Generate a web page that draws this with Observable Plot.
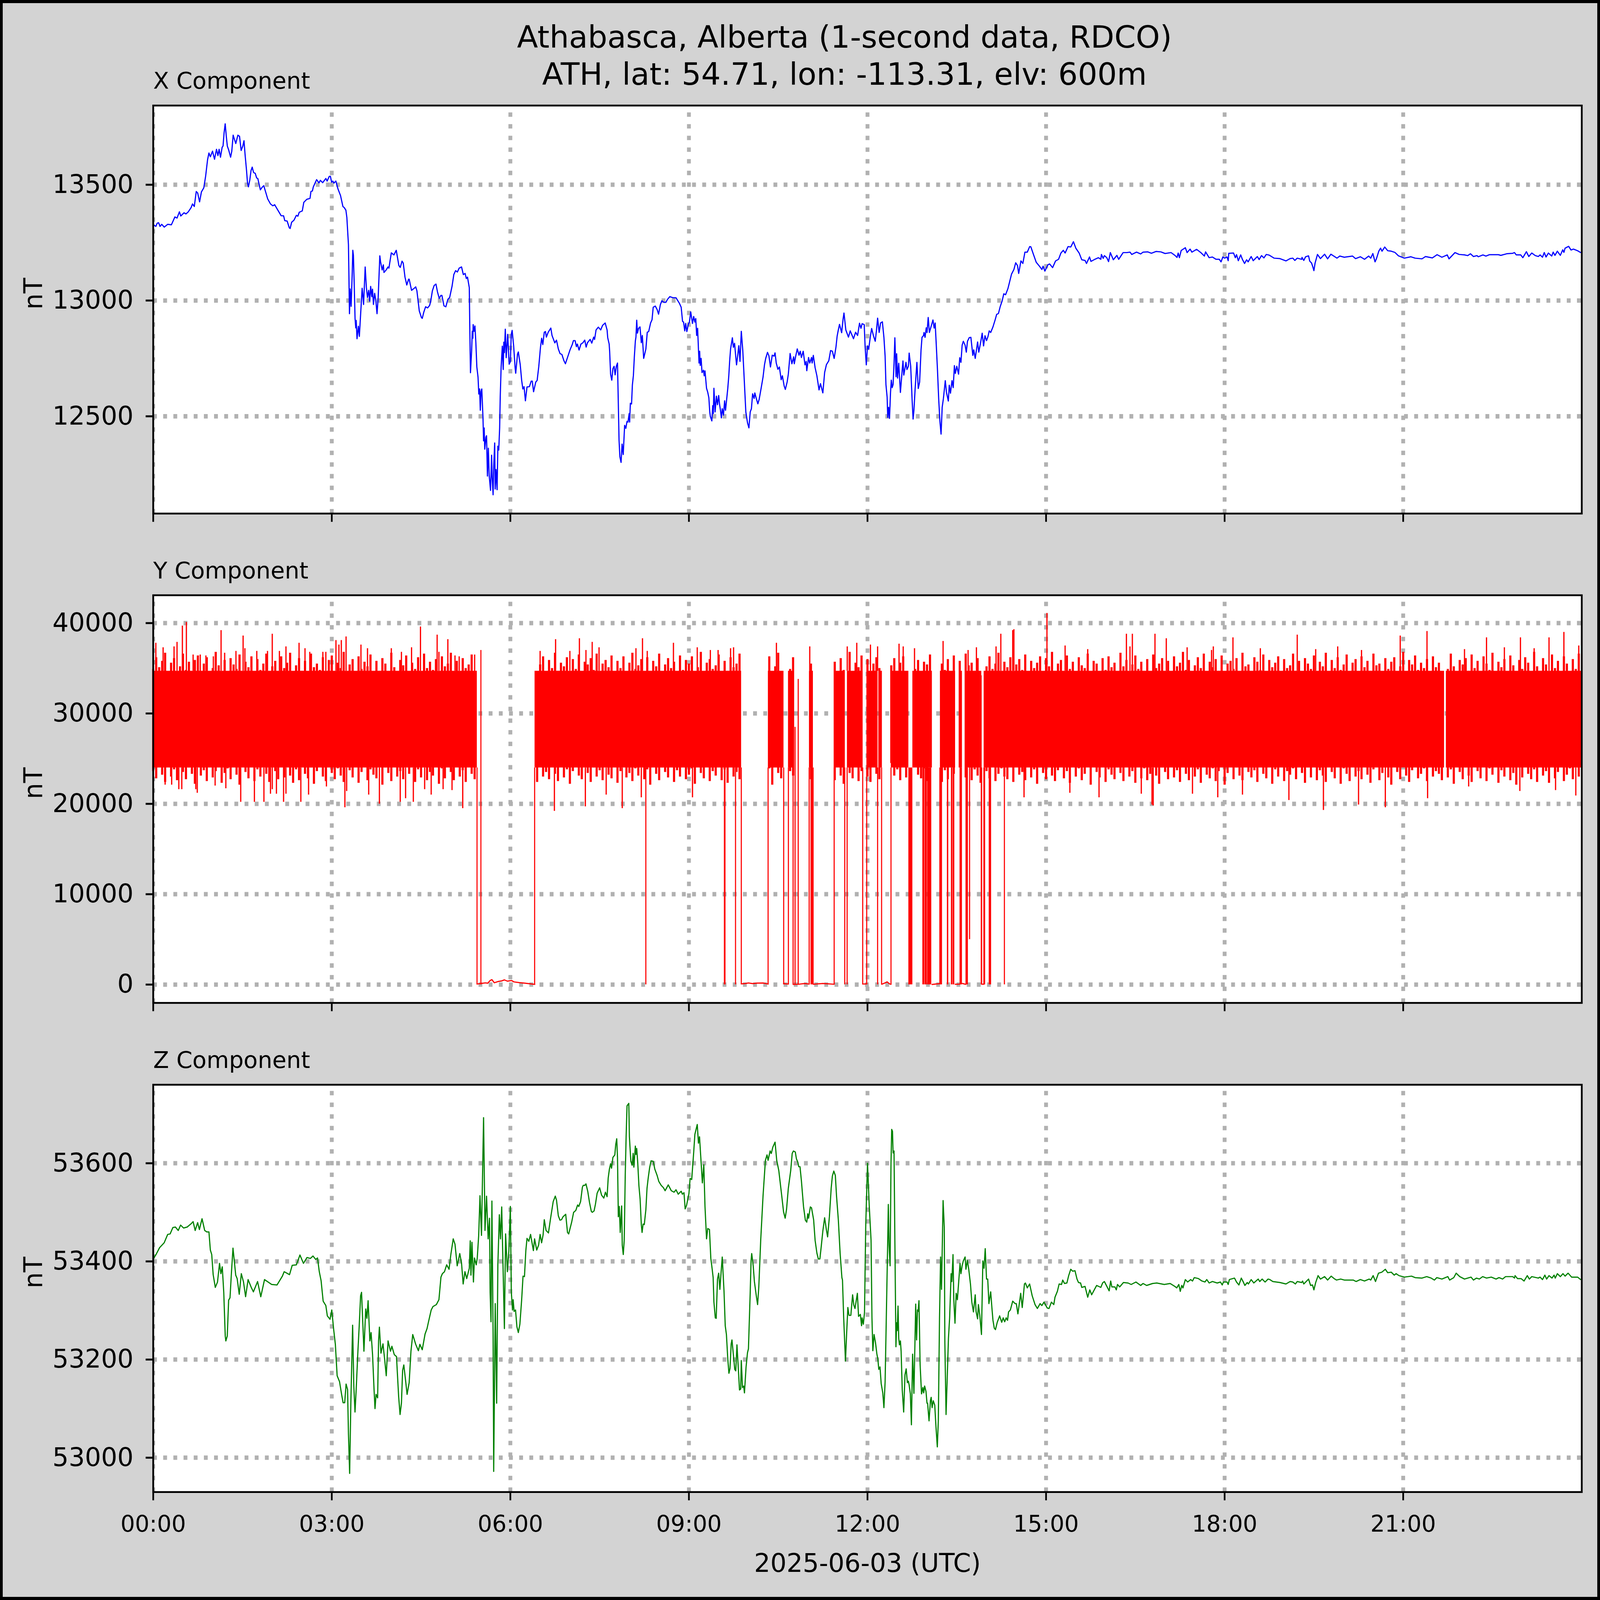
<!DOCTYPE html>
<html><head><meta charset="utf-8">
<script src="https://cdn.jsdelivr.net/npm/d3@7"></script>
<script src="https://cdn.jsdelivr.net/npm/@observablehq/plot@0.6"></script>
<style>
html,body{margin:0;padding:0;background:#d3d3d3;overflow:hidden}
#fig{position:relative;background:#d3d3d3;overflow:hidden}
#fig svg{display:block;max-width:none}
#edge{position:absolute;left:0;top:0;right:0;bottom:0;border-style:solid;border-color:#000;box-sizing:border-box;pointer-events:none}
</style></head><body><div id="fig"><div id="edge"></div></div>
<script>
const titleLines = ["Athabasca, Alberta (1-second data, RDCO)", "ATH, lat: 54.71, lon: -113.31, elv: 600m"];
const panelTitles = ["X Component", "Y Component", "Z Component"];
const xLabel = "2025-06-03 (UTC)";
const yLabel = "nT";
const hourTicks = [0,3,6,9,12,15,18,21];
const xTicksY = [12500,13000,13500];
const yTicksY = [0,10000,20000,30000,40000];
const zTicksY = [53000,53200,53400,53600];
const xDomainY = [12080,13842];
const yDomainY = [-2028,43081];
const zDomainY = [52930,53760];

// X component: [hour, nT]
const xSeries = [[0,13330],[.017,13325],[.044,13320],[.067,13334],[.09,13336],[.115,13320],[.143,13329],[.186,13317],[.242,13329],[.305,13327],[.34,13347],[.364,13361],[.4,13356],[.44,13383],[.463,13365],[.518,13379],[.55,13374],[.589,13383],[.636,13401],[.66,13417],[.69,13406],[.723,13471],[.747,13464],[.779,13426],[.81,13469],[.85,13487],[.881,13538],[.913,13608],[.936,13637],[.96,13621],[.996,13645],[1.03,13610],[1.063,13653],[1.087,13626],[1.107,13653],[1.13,13619],[1.158,13662],[1.173,13667],[1.19,13723],[1.209,13763],[1.229,13706],[1.245,13667],[1.268,13650],[1.3,13619],[1.32,13645],[1.343,13714],[1.363,13697],[1.387,13678],[1.422,13714],[1.45,13709],[1.477,13648],[1.505,13667],[1.525,13690],[1.544,13628],[1.568,13561],[1.584,13507],[1.6,13491],[1.623,13521],[1.643,13561],[1.663,13576],[1.686,13553],[1.714,13549],[1.738,13529],[1.757,13527],[1.8,13478],[1.83,13489],[1.857,13496],[1.892,13466],[1.923,13439],[1.97,13417],[2.01,13409],[2.04,13414],[2.09,13392],[2.15,13366],[2.19,13366],[2.21,13345],[2.25,13343],[2.286,13314],[2.3,13311],[2.326,13338],[2.365,13347],[2.405,13368],[2.43,13364],[2.453,13381],[2.504,13387],[2.53,13424],[2.58,13437],[2.634,13441],[2.65,13471],[2.674,13473],[2.69,13491],[2.713,13504],[2.745,13522],[2.784,13508],[2.808,13519],[2.847,13509],[2.9,13527],[2.922,13516],[2.957,13536],[2.977,13536],[2.997,13511],[3.017,13516],[3.036,13507],[3.068,13516],[3.104,13482],[3.147,13453],[3.187,13406],[3.21,13401],[3.237,13390],[3.253,13359],[3.28,13241],[3.297,12943],[3.309,13050],[3.325,12975],[3.344,13123],[3.353,13217],[3.363,13196],[3.376,13078],[3.391,12921],[3.403,12882],[3.41,12914],[3.424,12835],[3.447,12889],[3.463,12845],[3.48,12921],[3.51,13053],[3.534,12983],[3.561,13145],[3.581,13056],[3.6,13013],[3.62,13044],[3.637,12997],[3.653,13061],[3.672,13017],[3.684,13049],[3.7,12983],[3.72,13031],[3.74,13000],[3.76,12943],[3.779,13011],[3.807,13193],[3.819,13168],[3.846,13132],[3.866,13154],[3.877,13121],[3.913,13132],[3.945,13145],[3.96,13140],[4,13206],[4.044,13197],[4.083,13217],[4.127,13151],[4.15,13143],[4.18,13170],[4.2,13162],[4.23,13101],[4.26,13067],[4.29,13092],[4.3,13092],[4.34,13044],[4.386,13053],[4.41,13059],[4.43,13042],[4.47,12955],[4.505,12927],[4.52,12923],[4.545,12949],[4.576,12973],[4.61,12968],[4.644,12979],[4.664,13000],[4.69,13042],[4.72,13065],[4.75,13071],[4.775,13038],[4.805,13009],[4.833,13022],[4.85,13022],[4.885,12977],[4.916,12973],[4.95,13005],[4.98,13013],[5.02,13061],[5.05,13112],[5.08,13129],[5.11,13123],[5.14,13140],[5.18,13145],[5.21,13112],[5.24,13117],[5.26,13095],[5.28,13101],[5.31,13056],[5.32,12854],[5.33,12688],[5.35,12786],[5.36,12867],[5.37,12837],[5.375,12896],[5.39,12867],[5.405,12890],[5.42,12820],[5.437,12713],[5.457,12669],[5.47,12596],[5.484,12618],[5.495,12526],[5.507,12607],[5.52,12618],[5.54,12495],[5.55,12394],[5.56,12450],[5.57,12358],[5.59,12410],[5.6,12416],[5.615,12242],[5.63,12362],[5.645,12242],[5.667,12180],[5.685,12332],[5.695,12236],[5.71,12161],[5.72,12281],[5.737,12385],[5.745,12186],[5.76,12270],[5.777,12183],[5.79,12371],[5.805,12354],[5.82,12450],[5.83,12584],[5.845,12713],[5.865,12803],[5.88,12702],[5.89,12820],[5.9,12775],[5.915,12876],[5.93,12753],[5.955,12854],[5.98,12725],[6,12736],[6.015,12854],[6.03,12871],[6.055,12805],[6.08,12710],[6.09,12686],[6.12,12768],[6.134,12778],[6.166,12723],[6.19,12655],[6.21,12618],[6.23,12628],[6.253,12567],[6.28,12627],[6.32,12628],[6.35,12652],[6.368,12652],[6.39,12606],[6.427,12648],[6.45,12655],[6.478,12716],[6.506,12798],[6.526,12837],[6.545,12810],[6.57,12863],[6.59,12866],[6.605,12842],[6.636,12863],[6.68,12881],[6.7,12849],[6.747,12817],[6.775,12829],[6.806,12791],[6.834,12771],[6.866,12767],[6.9,12740],[6.925,12727],[6.964,12757],[7.004,12788],[7.04,12810],[7.06,12827],[7.087,12827],[7.11,12801],[7.126,12812],[7.154,12786],[7.186,12812],[7.217,12817],[7.25,12829],[7.273,12799],[7.296,12818],[7.34,12832],[7.368,12816],[7.4,12842],[7.415,12832],[7.44,12873],[7.478,12885],[7.518,12873],[7.55,12893],[7.593,12903],[7.625,12873],[7.636,12839],[7.66,12812],[7.668,12781],[7.684,12682],[7.704,12656],[7.723,12706],[7.743,12716],[7.76,12679],[7.78,12716],[7.8,12730],[7.814,12553],[7.826,12397],[7.84,12325],[7.86,12301],[7.877,12380],[7.896,12335],[7.92,12461],[7.94,12448],[7.96,12478],[7.976,12475],[7.996,12512],[8.004,12475],[8.016,12556],[8.036,12553],[8.05,12635],[8.067,12676],[8.083,12757],[8.1,12825],[8.11,12842],[8.123,12915],[8.135,12859],[8.154,12880],[8.178,12886],[8.2,12818],[8.217,12849],[8.24,12750],[8.277,12791],[8.3,12863],[8.324,12866],[8.356,12903],[8.38,12917],[8.4,12971],[8.435,12976],[8.466,12961],[8.49,12941],[8.52,12982],[8.545,12999],[8.58,12992],[8.613,12992],[8.64,13005],[8.68,13017],[8.73,13012],[8.783,13012],[8.84,12988],[8.87,12971],[8.893,12910],[8.91,12907],[8.93,12869],[8.945,12901],[8.965,12866],[8.99,12897],[9.008,12907],[9.03,12951],[9.06,12901],[9.08,12931],[9.1,12907],[9.115,12922],[9.13,12849],[9.146,12880],[9.16,12791],[9.17,12730],[9.18,12781],[9.19,12720],[9.205,12750],[9.22,12689],[9.245,12699],[9.257,12675],[9.27,12696],[9.296,12621],[9.316,12604],[9.335,12580],[9.35,12519],[9.36,12499],[9.385,12480],[9.4,12546],[9.41,12512],[9.42,12621],[9.44,12519],[9.462,12587],[9.48,12550],[9.5,12590],[9.514,12553],[9.53,12526],[9.545,12493],[9.56,12533],[9.58,12505],[9.6,12567],[9.615,12526],[9.63,12563],[9.653,12621],[9.67,12675],[9.684,12737],[9.7,12791],[9.73,12839],[9.747,12798],[9.767,12815],[9.787,12757],[9.8,12722],[9.82,12764],[9.838,12805],[9.858,12737],[9.88,12867],[9.905,12784],[9.93,12655],[9.956,12519],[9.985,12471],[10.008,12450],[10.03,12519],[10.05,12533],[10.07,12597],[10.095,12577],[10.107,12601],[10.134,12575],[10.158,12554],[10.18,12573],[10.213,12621],[10.245,12669],[10.27,12723],[10.29,12750],[10.32,12776],[10.344,12761],[10.37,12713],[10.4,12764],[10.43,12760],[10.447,12774],[10.467,12730],[10.495,12703],[10.52,12713],[10.55,12658],[10.57,12675],[10.6,12631],[10.62,12616],[10.65,12648],[10.67,12682],[10.7,12771],[10.73,12727],[10.76,12757],[10.77,12727],[10.795,12761],[10.82,12791],[10.85,12764],[10.87,12781],[10.89,12754],[10.92,12781],[10.95,12722],[10.97,12737],[10.98,12697],[11.01,12754],[11.03,12730],[11.06,12754],[11.07,12730],[11.09,12763],[11.12,12710],[11.15,12675],[11.186,12614],[11.21,12641],[11.25,12601],[11.28,12689],[11.31,12723],[11.35,12740],[11.38,12784],[11.41,12781],[11.44,12750],[11.47,12798],[11.49,12846],[11.51,12873],[11.53,12897],[11.566,12861],[11.59,12920],[11.605,12946],[11.636,12873],[11.68,12842],[11.71,12869],[11.765,12835],[11.8,12863],[11.834,12849],[11.866,12902],[11.89,12880],[11.91,12900],[11.945,12896],[11.96,12801],[11.98,12722],[12,12804],[12.02,12790],[12.05,12848],[12.07,12879],[12.1,12848],[12.13,12824],[12.15,12869],[12.17,12924],[12.196,12862],[12.22,12903],[12.25,12908],[12.276,12841],[12.296,12760],[12.31,12637],[12.33,12583],[12.34,12495],[12.355,12539],[12.37,12491],[12.387,12603],[12.4,12656],[12.415,12624],[12.43,12637],[12.446,12729],[12.46,12839],[12.48,12671],[12.49,12770],[12.505,12665],[12.525,12729],[12.553,12603],[12.584,12702],[12.596,12739],[12.61,12678],[12.647,12733],[12.663,12702],[12.687,12716],[12.7,12773],[12.726,12716],[12.75,12569],[12.766,12488],[12.78,12525],[12.8,12617],[12.83,12733],[12.853,12620],[12.876,12648],[12.9,12788],[12.916,12841],[12.94,12848],[12.95,12862],[12.967,12841],[12.987,12882],[13,12862],[13.02,12927],[13.04,12862],[13.07,12889],[13.1,12916],[13.12,12881],[13.137,12903],[13.157,12801],[13.176,12699],[13.196,12576],[13.216,12481],[13.236,12423],[13.255,12539],[13.275,12576],[13.307,12654],[13.327,12603],[13.358,12566],[13.374,12634],[13.394,12600],[13.42,12654],[13.44,12624],[13.46,12719],[13.476,12685],[13.5,12716],[13.53,12682],[13.55,12753],[13.57,12733],[13.59,12807],[13.61,12824],[13.64,12807],[13.66,12777],[13.68,12824],[13.71,12840],[13.737,12841],[13.77,12763],[13.785,12787],[13.81,12750],[13.85,12821],[13.87,12777],[13.9,12818],[13.927,12859],[13.95,12804],[13.974,12848],[14,12827],[14.025,12845],[14.045,12869],[14.07,12862],[14.108,12886],[14.144,12916],[14.17,12940],[14.2,12944],[14.23,12974],[14.262,12998],[14.29,13029],[14.32,13025],[14.36,13052],[14.39,13083],[14.42,13114],[14.46,13134],[14.49,13163],[14.52,13151],[14.54,13117],[14.578,13171],[14.61,13160],[14.645,13209],[14.685,13209],[14.725,13233],[14.744,13232],[14.784,13202],[14.835,13165],[14.89,13148],[14.93,13134],[14.95,13148],[14.98,13127],[15.03,13154],[15.06,13158],[15.11,13142],[15.16,13171],[15.21,13178],[15.25,13205],[15.29,13217],[15.32,13205],[15.37,13233],[15.415,13231],[15.46,13254],[15.5,13226],[15.556,13205],[15.6,13176],[15.655,13173],[15.68,13160],[15.73,13188],[15.755,13169],[15.82,13178],[15.88,13185],[15.92,13178],[15.93,13199],[15.96,13182],[15.98,13194],[16.02,13185],[16.05,13168],[16.08,13207],[16.13,13176],[16.19,13195],[16.22,13178],[16.295,13207],[16.355,13207],[16.41,13209],[16.44,13199],[16.52,13209],[16.59,13201],[16.63,13209],[16.71,13210],[16.77,13204],[16.85,13212],[16.93,13210],[17,13203],[17.1,13207],[17.165,13195],[17.2,13186],[17.22,13205],[17.24,13185],[17.27,13216],[17.34,13228],[17.37,13207],[17.42,13222],[17.45,13209],[17.53,13221],[17.6,13207],[17.66,13192],[17.68,13210],[17.74,13185],[17.795,13188],[17.855,13178],[17.91,13178],[17.94,13167],[17.97,13188],[18,13183],[18.04,13188],[18.06,13172],[18.07,13204],[18.15,13205],[18.18,13185],[18.2,13198],[18.23,13172],[18.27,13197],[18.3,13177],[18.335,13160],[18.37,13176],[18.395,13167],[18.446,13190],[18.48,13172],[18.55,13190],[18.58,13177],[18.62,13194],[18.66,13184],[18.7,13199],[18.75,13196],[18.83,13183],[18.93,13181],[19.03,13171],[19.1,13181],[19.145,13183],[19.18,13173],[19.22,13183],[19.295,13178],[19.3,13186],[19.33,13173],[19.36,13189],[19.41,13193],[19.43,13170],[19.46,13162],[19.48,13147],[19.5,13129],[19.52,13162],[19.56,13199],[19.61,13181],[19.68,13200],[19.73,13180],[19.785,13200],[19.887,13183],[19.935,13192],[20.01,13187],[20.15,13192],[20.2,13181],[20.28,13189],[20.35,13178],[20.42,13192],[20.455,13183],[20.49,13203],[20.527,13167],[20.55,13180],[20.59,13213],[20.62,13226],[20.645,13213],[20.69,13231],[20.74,13215],[20.8,13213],[20.86,13208],[20.92,13193],[21.02,13183],[21.13,13189],[21.2,13183],[21.316,13180],[21.375,13190],[21.49,13184],[21.57,13198],[21.65,13187],[21.74,13197],[21.77,13180],[21.87,13207],[21.94,13199],[22.03,13197],[22.085,13194],[22.13,13202],[22.18,13190],[22.24,13194],[22.26,13189],[22.34,13197],[22.39,13192],[22.45,13198],[22.6,13198],[22.64,13195],[22.74,13202],[22.84,13204],[22.87,13207],[22.9,13197],[22.975,13197],[23.01,13185],[23.07,13211],[23.11,13190],[23.16,13205],[23.22,13194],[23.27,13190],[23.3,13197],[23.34,13187],[23.37,13207],[23.4,13188],[23.44,13205],[23.495,13192],[23.52,13209],[23.55,13195],[23.59,13213],[23.64,13195],[23.68,13219],[23.7,13208],[23.72,13226],[23.78,13234],[23.82,13218],[23.86,13222],[23.93,13215],[23.97,13209],[24,13205]];

// Z component: [hour, nT]
const zSeries = [[0,53405],[.01,53407],[.047,53414],[.107,53428],[.184,53438],[.243,53455],[.284,53456],[.33,53469],[.373,53470],[.42,53463],[.46,53474],[.51,53468],[.57,53470],[.63,53476],[.67,53481],[.705,53463],[.746,53479],[.776,53465],[.82,53487],[.865,53463],[.9,53460],[.936,53460],[.96,53423],[.983,53414],[1.007,53373],[1.043,53347],[1.08,53358],[1.114,53396],[1.137,53375],[1.16,53389],[1.185,53337],[1.21,53248],[1.22,53238],[1.244,53248],[1.267,53321],[1.29,53326],[1.315,53379],[1.34,53427],[1.363,53400],[1.386,53372],[1.41,53365],[1.445,53333],[1.48,53375],[1.517,53358],[1.552,53328],[1.594,53363],[1.647,53347],[1.683,53338],[1.753,53359],[1.807,53328],[1.87,53363],[1.93,53358],[1.99,53353],[2.08,53352],[2.17,53370],[2.2,53379],[2.29,53373],[2.335,53392],[2.405,53393],[2.465,53413],[2.524,53396],[2.583,53408],[2.64,53406],[2.684,53411],[2.73,53404],[2.76,53407],[2.79,53379],[2.82,53361],[2.855,53319],[2.9,53310],[2.925,53289],[2.97,53282],[3,53301],[3.03,53263],[3.06,53231],[3.09,53167],[3.13,53155],[3.165,53129],[3.19,53112],[3.217,53112],[3.24,53150],[3.265,53139],[3.28,53048],[3.3,52968],[3.32,53111],[3.35,53270],[3.37,53146],[3.39,53093],[3.41,53139],[3.436,53210],[3.46,53267],[3.484,53330],[3.5,53337],[3.54,53217],[3.57,53303],[3.59,53284],[3.61,53320],[3.64,53238],[3.66,53255],[3.685,53210],[3.71,53139],[3.726,53100],[3.744,53129],[3.77,53122],[3.786,53238],[3.8,53266],[3.826,53213],[3.86,53232],[3.886,53203],[3.915,53167],[3.945,53238],[3.986,53217],[4.01,53227],[4.05,53210],[4.087,53206],[4.123,53125],[4.147,53088],[4.17,53111],[4.19,53178],[4.21,53189],[4.24,53157],[4.265,53129],[4.3,53153],[4.33,53217],[4.36,53251],[4.41,53231],[4.455,53218],[4.48,53231],[4.52,53220],[4.567,53252],[4.6,53263],[4.625,53277],[4.67,53301],[4.7,53308],[4.757,53312],[4.8,53322],[4.834,53368],[4.858,53375],[4.893,53379],[4.93,53393],[4.97,53384],[5,53414],[5.04,53446],[5.07,53435],[5.107,53391],[5.15,53416],[5.18,53396],[5.207,53354],[5.237,53379],[5.267,53365],[5.31,53386],[5.326,53442],[5.338,53372],[5.355,53439],[5.38,53358],[5.397,53407],[5.427,53393],[5.444,53407],[5.468,53453],[5.49,53534],[5.515,53453],[5.55,53693],[5.574,53463],[5.6,53533],[5.627,53446],[5.65,53488],[5.66,53337],[5.675,53277],[5.69,53523],[5.71,53252],[5.72,52972],[5.746,53314],[5.77,53111],[5.79,53393],[5.815,53495],[5.834,53446],[5.855,53511],[5.9,53263],[5.92,53456],[5.95,53379],[5.975,53421],[6,53512],[6.016,53338],[6.036,53301],[6.047,53322],[6.063,53298],[6.087,53301],[6.11,53267],[6.134,53255],[6.16,53272],[6.19,53322],[6.213,53370],[6.237,53369],[6.26,53422],[6.28,53447],[6.31,53441],[6.34,53455],[6.364,53438],[6.387,53422],[6.407,53446],[6.443,53423],[6.474,53433],[6.5,53455],[6.525,53438],[6.55,53454],[6.57,53485],[6.6,53463],[6.64,53458],[6.676,53488],[6.72,53522],[6.755,53533],[6.775,53525],[6.806,53493],[6.834,53484],[6.86,53485],[6.885,53491],[6.93,53496],[6.96,53459],[6.98,53456],[7.03,53480],[7.063,53500],[7.1,53504],[7.13,53515],[7.15,53512],[7.18,53522],[7.21,53551],[7.225,53555],[7.25,53555],[7.27,53558],[7.3,53543],[7.33,53520],[7.36,53502],[7.376,53500],[7.407,53503],[7.43,53517],[7.458,53539],[7.5,53550],[7.533,53535],[7.57,53529],[7.597,53541],[7.625,53532],[7.644,53570],[7.664,53588],[7.684,53599],[7.7,53590],[7.723,53612],[7.755,53617],[7.77,53638],[7.787,53650],[7.8,53612],[7.814,53491],[7.83,53512],[7.846,53459],[7.87,53513],[7.88,53433],[7.897,53414],[7.913,53443],[7.93,53575],[7.945,53654],[7.96,53717],[7.99,53722],[8,53654],[8.024,53604],[8.047,53596],[8.063,53620],[8.075,53592],[8.1,53635],[8.11,53618],[8.123,53630],[8.14,53601],[8.16,53554],[8.18,53527],[8.2,53475],[8.213,53459],[8.23,53476],[8.25,53475],[8.277,53506],[8.296,53549],[8.316,53570],[8.34,53591],[8.364,53605],[8.4,53604],[8.427,53588],[8.466,53575],[8.494,53563],[8.534,53555],[8.573,53550],[8.6,53544],[8.653,53556],[8.704,53544],[8.75,53541],[8.783,53546],[8.82,53537],[8.87,53543],[8.89,53537],[8.917,53540],[8.937,53507],[8.96,53514],[9,53538],[9.02,53569],[9.047,53567],[9.08,53622],[9.1,53659],[9.14,53679],[9.16,53641],[9.178,53654],[9.205,53601],[9.226,53560],[9.25,53597],[9.27,53512],[9.296,53446],[9.316,53467],[9.345,53465],[9.368,53406],[9.39,53385],[9.407,53367],[9.42,53317],[9.443,53285],[9.458,53284],[9.48,53364],[9.5,53376],[9.52,53343],[9.54,53377],[9.56,53409],[9.59,53338],[9.61,53269],[9.63,53251],[9.653,53201],[9.672,53172],[9.69,53182],[9.71,53232],[9.723,53240],[9.75,53206],[9.77,53180],[9.787,53177],[9.807,53230],[9.826,53190],[9.85,53138],[9.87,53140],[9.88,53198],[9.9,53143],[9.92,53146],[9.933,53132],[9.96,53185],[9.984,53214],[10,53222],[10.03,53338],[10.044,53401],[10.055,53416],[10.08,53391],[10.1,53359],[10.123,53338],[10.135,53327],[10.154,53312],[10.174,53348],[10.206,53443],[10.245,53533],[10.285,53606],[10.312,53617],[10.33,53606],[10.364,53625],[10.384,53620],[10.41,53633],[10.447,53643],[10.475,53606],[10.51,53585],[10.56,53533],[10.59,53501],[10.617,53488],[10.64,53506],[10.67,53549],[10.71,53585],[10.735,53620],[10.755,53625],[10.787,53623],[10.806,53609],[10.83,53602],[10.845,53593],[10.866,53593],[10.89,53564],[10.925,53512],[10.956,53484],[10.98,53480],[10.996,53497],[11.01,53488],[11.04,53511],[11.06,53509],[11.095,53485],[11.12,53443],[11.15,53417],[11.174,53405],[11.2,53405],[11.22,53427],[11.25,53462],[11.28,53489],[11.31,53464],[11.33,53450],[11.36,53491],[11.39,53549],[11.41,53574],[11.434,53584],[11.46,53575],[11.48,53533],[11.51,53485],[11.54,53417],[11.57,53367],[11.58,53362],[11.6,53285],[11.63,53197],[11.65,53254],[11.67,53306],[11.69,53290],[11.72,53290],[11.75,53332],[11.77,53311],[11.79,53304],[11.83,53335],[11.85,53288],[11.88,53292],[11.9,53269],[11.91,53285],[11.93,53272],[11.95,53296],[11.97,53470],[12,53600],[12.01,53572],[12.03,53512],[12.06,53443],[12.075,53285],[12.09,53218],[12.11,53251],[12.134,53235],[12.158,53211],[12.174,53201],[12.19,53180],[12.21,53185],[12.23,53151],[12.257,53132],[12.276,53102],[12.296,53154],[12.316,53285],[12.34,53443],[12.35,53516],[12.363,53433],[12.38,53391],[12.395,53601],[12.407,53669],[12.42,53665],[12.43,53621],[12.446,53625],[12.46,53443],[12.478,53226],[12.49,53275],[12.5,53259],[12.513,53309],[12.525,53243],[12.537,53230],[12.553,53238],[12.565,53217],[12.584,53138],[12.608,53093],[12.63,53169],[12.65,53181],[12.67,53153],[12.687,53156],[12.7,53148],[12.72,53130],[12.738,53067],[12.758,53211],[12.78,53131],[12.797,53233],[12.81,53313],[12.825,53240],[12.84,53301],[12.85,53298],[12.865,53320],[12.884,53190],[12.908,53130],[12.93,53143],[12.944,53132],[12.96,53146],[12.983,53135],[13,53111],[13.01,53111],[13.034,53075],[13.058,53117],[13.07,53123],[13.086,53102],[13.105,53116],[13.13,53107],[13.15,53064],[13.173,53022],[13.19,53075],[13.21,53285],[13.228,53409],[13.244,53343],[13.27,53524],[13.29,53470],[13.3,53233],[13.32,53088],[13.34,53164],[13.36,53243],[13.38,53285],[13.405,53375],[13.417,53359],[13.437,53414],[13.45,53322],[13.47,53274],[13.49,53335],[13.51,53322],[13.52,53338],[13.555,53396],[13.57,53375],[13.59,53391],[13.61,53401],[13.64,53409],[13.654,53384],[13.678,53402],[13.7,53385],[13.73,53354],[13.753,53317],[13.78,53297],[13.81,53332],[13.824,53298],[13.85,53283],[13.863,53312],[13.887,53290],[13.915,53251],[13.938,53401],[13.958,53386],[13.978,53426],[14,53364],[14.02,53364],[14.04,53314],[14.07,53338],[14.09,53306],[14.108,53280],[14.13,53264],[14.15,53261],[14.18,53276],[14.22,53289],[14.255,53276],[14.28,53285],[14.305,53277],[14.33,53285],[14.353,53280],[14.37,53297],[14.4,53301],[14.44,53319],[14.48,53314],[14.5,53314],[14.527,53293],[14.574,53335],[14.6,53306],[14.637,53354],[14.653,53356],[14.685,53346],[14.724,53354],[14.767,53330],[14.815,53312],[14.854,53304],[14.9,53314],[14.93,53310],[14.965,53317],[15.02,53305],[15.05,53304],[15.09,53317],[15.13,53312],[15.15,53327],[15.19,53339],[15.22,53354],[15.26,53353],[15.28,53362],[15.31,53355],[15.35,53356],[15.38,53371],[15.415,53384],[15.447,53380],[15.486,53381],[15.52,53364],[15.545,53357],[15.58,53356],[15.6,53347],[15.655,53349],[15.7,53327],[15.735,53342],[15.766,53332],[15.81,53342],[15.85,53351],[15.92,53347],[15.95,53356],[15.98,53359],[16.06,53340],[16.086,53360],[16.106,53348],[16.157,53348],[16.18,53342],[16.2,53353],[16.237,53348],[16.3,53357],[16.377,53356],[16.43,53353],[16.51,53358],[16.59,53351],[16.63,53355],[16.69,53351],[16.79,53355],[16.86,53356],[16.986,53353],[17.085,53355],[17.164,53349],[17.196,53346],[17.23,53353],[17.255,53339],[17.28,53351],[17.3,53346],[17.34,53363],[17.38,53358],[17.43,53363],[17.46,53360],[17.49,53367],[17.56,53365],[17.62,53360],[17.67,53358],[17.7,53363],[17.74,53356],[17.795,53359],[17.875,53356],[17.93,53358],[17.96,53352],[17.98,53358],[18.04,53358],[18.06,53353],[18.08,53363],[18.166,53366],[18.2,53358],[18.24,53352],[18.28,53366],[18.31,53359],[18.34,53351],[18.38,53357],[18.4,53354],[18.446,53363],[18.49,53356],[18.565,53364],[18.59,53359],[18.63,53364],[18.68,53358],[18.73,53364],[18.76,53363],[18.81,53359],[18.93,53357],[19.03,53354],[19.1,53359],[19.145,53358],[19.19,53354],[19.22,53359],[19.295,53357],[19.31,53360],[19.33,53354],[19.41,53364],[19.445,53351],[19.476,53352],[19.5,53342],[19.53,53357],[19.57,53371],[19.61,53364],[19.68,53369],[19.73,53362],[19.79,53370],[19.84,53365],[19.88,53362],[19.95,53364],[20.01,53362],[20.16,53362],[20.21,53359],[20.28,53363],[20.35,53360],[20.43,53364],[20.455,53362],[20.495,53371],[20.535,53359],[20.585,53376],[20.64,53378],[20.7,53384],[20.74,53377],[20.8,53378],[20.85,53372],[20.88,53375],[20.93,53371],[21.02,53368],[21.14,53370],[21.2,53367],[21.316,53366],[21.395,53369],[21.47,53366],[21.525,53362],[21.565,53367],[21.65,53364],[21.75,53369],[21.78,53362],[21.85,53367],[21.89,53376],[21.95,53369],[22.03,53364],[22.14,53368],[22.18,53362],[22.23,53366],[22.28,53364],[22.335,53369],[22.4,53366],[22.48,53368],[22.56,53364],[22.61,53367],[22.67,53364],[22.72,53369],[22.84,53369],[22.87,53366],[22.88,53371],[22.92,53365],[22.98,53365],[23.03,53360],[23.085,53371],[23.12,53364],[23.16,53369],[23.27,53366],[23.3,53368],[23.34,53363],[23.38,53372],[23.41,53364],[23.45,53371],[23.5,53366],[23.535,53372],[23.555,53366],[23.59,53375],[23.64,53369],[23.685,53375],[23.72,53370],[23.77,53376],[23.8,53372],[23.83,53368],[23.93,53368],[23.97,53364],[24,53362]];

// Y component. Noise band hours, and its solid core in nT.
const yBands = [[0,5.44],[6.41,9.88],[10.33,10.592],[10.668,10.755],[11.02,11.086],[11.44,11.62],[11.658,11.92],[11.995,12.17],[12.2,12.245],[12.395,12.69],[12.757,13.085],[13.22,13.475],[13.55,13.59],[13.65,13.915],[13.955,21.69],[21.72,24]];
const yCore = [24000,34700];
// Band envelope read every 0.05 h, in hundreds of nT
const yHigh = [349,362,351,358,367,345,356,361,343,352,366,348,357,340,359,364,347,355,362,344,350,368,353,346,359,342,361,354,349,365,343,357,351,363,346,360,348,355,366,341,352,358,345,363,350,356,367,344,
353,361,347,358,342,366,351,355,348,362,345,359,364,343,356,350,368,346,354,360,341,363,349,357,352,365,344,358,347,361,355,342,367,351,346,359,353,364,345,356,349,362,343,366,350,357,348,360,
344,363,352,355,367,346,358,341,361,350,354,365,347,359,343,356,362,349,351,368,345,357,353,360,342,364,348,355,366,344,358,351,361,346,354,363,340,359,350,367,347,356,352,362,345,360,349,365,
343,357,354,361,348,366,342,355,359,351,364,346,358,350,363,344,356,367,349,353,360,341,362,347,358,352,366,345,354,361,350,357,343,364,348,359,355,363,346,351,368,344,356,360,349,353,365,342,
358,347,362,351,355,366,345,359,350,361,343,357,364,348,354,363,346,352,367,341,358,356,349,362,344,360,353,365,347,355,350,363,342,359,346,366,352,357,345,361,348,354,368,343,356,351,364,347,
360,345,355,362,350,358,366,342,353,361,347,356,363,344,352,367,349,359,341,357,354,365,346,362,351,355,348,360,343,364,350,358,345,366,353,356,347,361,342,359,352,363,349,355,367,344,357,351,
362,346,354,360,348,365,343,358,350,356,363,345,361,352,368,347,355,359,341,364,349,357,344,362,353,350,366,346,358,355,342,361,348,363,351,356,345,367,352,359,343,354,364,349,357,347,360,344,
365,350,355,361,346,358,342,363,352,356,368,348,359,345,353,362,350,366,344,357,351,360,347,364,341,355,358,349,361,346,367,352,354,343,362,357,348,365,345,359,351,356,363,344,360,350,353,366,
347,358,342,361,355,349,364,346,357,352,367,343,359,350,362,348,354,365,345,356,360,341,363,351,358,347,366,353,355,344,361,349,357,362,346,352,368,342,359,354,364,348,356,350,360,345,363,351,
356,343,362,349,366,352,345,359,354,361,347,365,350,358,342,363,355,348,367,344,357,351,360,346,364,353,341,359,349,362,356,345,368,352,347,361,354,343,365,350,358,346,363,355,344,360,349,366];
const yLow = [236,228,241,232,224,245,230,238,226,243,235,227,240,233,222,246,231,237,225,242,229,236,244,223,234,239,227,247,232,221,241,235,228,243,225,238,230,245,233,224,240,236,227,242,229,246,231,223,
238,226,244,233,228,240,222,236,247,230,225,242,234,227,239,231,224,245,237,229,241,223,235,243,226,238,232,228,246,221,240,234,225,243,230,236,227,242,233,245,224,238,229,241,226,235,231,244,
222,239,228,243,235,226,241,230,237,224,246,233,227,240,232,223,244,236,229,242,225,238,231,245,234,221,240,228,236,243,226,232,239,224,247,230,235,227,241,233,225,244,229,238,222,236,242,231,
227,245,234,224,240,230,237,226,243,232,228,241,223,236,246,229,234,225,239,231,244,227,238,221,242,233,226,240,235,229,245,224,237,230,243,227,232,239,222,246,234,228,241,225,236,231,244,226,
238,223,242,230,235,227,240,233,245,224,237,229,243,226,232,239,221,244,234,228,241,225,236,231,247,223,238,230,242,227,235,240,224,245,233,229,237,226,243,231,222,239,234,228,246,225,236,241,
230,224,243,233,227,240,235,222,245,231,238,226,242,229,236,223,244,232,228,239,225,246,234,230,241,224,237,227,243,233,221,240,235,229,245,226,238,231,223,242,236,228,244,225,233,239,230,227,
241,224,246,232,235,226,243,229,238,222,240,234,227,245,231,225,237,242,228,236,223,244,230,239,226,233,241,221,247,235,229,243,224,238,232,227,240,234,225,245,230,236,223,242,228,239,226,233,
244,231,222,240,235,227,246,229,237,224,243,233,226,241,230,238,223,245,232,228,239,225,236,242,221,234,244,227,240,231,226,243,235,229,237,224,246,233,228,241,222,238,230,245,225,236,232,239,
227,243,234,223,240,229,246,226,237,231,224,242,235,228,244,222,239,233,225,241,230,236,227,245,232,223,238,243,226,234,240,229,221,246,235,227,242,231,224,237,244,228,233,239,225,241,230,236,
233,226,243,229,238,222,245,235,227,240,231,224,244,236,228,241,225,239,232,247,223,237,230,243,226,234,221,240,229,245,233,227,238,224,242,231,236,223,246,228,235,241,225,232,239,227,244,230];
// Taller spikes above and below the band: [hour, nT]
const ySpikesUp = [[.044,37800],[.166,37300],[.35,37400],[.4,37900],[.49,39700],[.557,40100],[.67,36500],[.79,36500],[.885,36400],[1.01,36300],[1.14,39200],[1.2,36700],[1.39,36900],[1.51,38600],[1.54,37200],[1.74,36900],[1.92,36900],[2,38800],[2.12,36900],[2.23,37400],[2.45,37800],[2.55,37200],[2.63,36800],[2.85,36800],[2.9,36800],[3.07,38100],[3.12,37600],[3.16,38100],[3.24,38500],[3.49,37600],[3.6,37200],[4,37200],[4.17,36800],[4.34,37300],[4.49,39600],[4.77,38700],[4.8,36800],[4.95,38200],[5.07,36400],[5.14,36300],[5.4,36500],[6.5,36900],[6.76,38200],[7,36900],[7.16,38300],[7.27,37000],[7.375,37900],[7.49,37300],[8.11,37200],[8.22,38300],[8.3,36900],[8.74,37800],[9.14,37300],[9.36,37000],[9.49,37000],[9.7,37200],[9.75,37300],[10.47,37800],[11.03,37400],[11.66,37400],[11.82,37800],[12.05,37600],[12.17,37400],[12.53,37700],[12.6,37400],[12.79,37200],[13.27,38000],[13.69,37000],[13.83,37300],[14.16,37400],[14.24,38800],[14.44,39200],[14.46,39300],[15.015,41100],[15.32,37500],[15.7,37100],[16.35,38800],[16.41,37400],[16.45,38800],[16.83,38800],[17.02,38300],[17.37,37300],[17.78,37000],[17.81,37400],[18.14,38400],[18.6,37200],[19.22,38700],[19.53,37100],[19.9,37400],[20.3,37000],[20.95,38600],[21.4,39100],[22.03,37100],[22.4,38400],[22.7,37300],[22.97,38400],[23.2,37200],[23.45,38400],[23.7,39000],[23.95,37500]];
const ySpikesDown = [[.2,22100],[.31,22100],[.43,21600],[.48,21600],[.715,21600],[.74,21200],[1.04,22000],[1.22,21700],[1.47,20200],[1.7,20200],[1.86,20200],[1.97,21100],[2,21600],[2.07,21100],[2.19,20200],[2.23,21100],[2.48,20200],[2.61,21000],[2.91,21900],[3.22,19600],[3.25,21400],[3.62,21000],[3.8,20000],[4.15,20200],[4.24,20600],[4.37,20200],[4.56,21600],[4.67,21000],[4.87,21600],[5.02,21500],[5.2,19500],[6.74,19200],[7.26,19700],[7.61,21000],[7.88,19500],[8.2,20700],[9.06,20700],[14.63,20700],[15.4,21200],[15.89,20700],[16.6,21100],[16.78,19900],[16.8,19800],[17.46,21100],[17.885,20700],[18.3,21000],[19.08,20400],[19.66,19300],[20.25,19900],[20.7,19600],[21.41,20600],[22.1,21900],[22.96,21400],[23.56,21500],[23.9,20900]];
// Single strokes down to zero and solid groups of them
const yDrops = [5.44,6.408,8.276,9.783,9.88,10.33,10.592,10.671,10.75,11.02,11.086,11.44,11.618,11.658,11.92,11.987,12.17,12.237,12.395,13.224,14.30];
const yDropGroups = [[9.59,9.618],[11.046,11.086],[12.69,12.757],[12.925,12.96],[12.965,13],[13.005,13.075],[13.21,13.255],[13.337,13.36],[13.405,13.43],[13.435,13.462],[13.55,13.59],[13.65,13.69],[13.906,13.93],[13.95,13.98],[14.04,14.08]];
// Isolated strokes rising from zero, and one falling short of zero: [hour, bottom, top]
const yLone = [[5.505,0,37000],[10.783,0,28500],[10.836,0,33800],[13.715,5000,30000]];
// Low level during the dropouts: [hour, nT]; null breaks the line
const yFloor = [[5.44,60],[5.52,130],[5.58,190],[5.62,150],[5.66,450],[5.69,550],[5.73,200],[5.8,350],[5.85,400],[5.9,520],[5.95,380],[6.02,450],[6.06,300],[6.15,220],[6.25,150],[6.41,20],[6.41,null],[9.88,80],[9.95,120],[10,180],[10.07,110],[10.15,160],[10.25,170],[10.33,60],[10.33,null],[10.59,100],[10.67,60],[10.67,null],[10.75,20],[10.84,40],[10.95,120],[11.02,50],[11.02,null],[11.09,40],[11.25,120],[11.44,40],[11.44,null],[11.92,60],[11.99,80],[11.99,null],[12.24,40],[12.3,200],[12.33,300],[12.37,80],[12.395,30],[12.395,null],[13.085,10],[13.15,70],[13.22,100],[13.22,null],[13.475,30],[13.55,50],[13.55,null],[13.595,120],[13.65,30],[13.65,null],[13.915,50],[13.955,40]];

const envelopeStep = 0.05;
const inBand = t => yBands.some(([a,b]) => t >= a && t <= b);
const yEnvelope = yHigh.map((h,i) => ({t:i*envelopeStep, hi:h*100, lo:yLow[i]*100})).filter(d => inBand(d.t));

// The layout follows the window the page actually gets.
const W = window.innerWidth, H = window.innerHeight;
const sx = W/5207, sy = H/4541, sw = (sx+sy)/2;
const FONT = "DejaVu Sans, Liberation Sans, sans-serif";
const gridColor = "#b1b1b1";
const hh = h => String(h).padStart(2,"0") + ":00";

function panel({height, marginTop, marginBottom, domainY, yTicks, title, data, last}) {
  return Plot.plot({
    width:W, height:height*sy, marginLeft:498*sx, marginRight:60*sx, marginTop:marginTop*sy, marginBottom:marginBottom*sy,
    style:{background:"transparent", fontFamily:FONT, overflow:"visible", maxWidth:"none"},
    x:{domain:[0,24], axis:null}, y:{domain:domainY, axis:null},
    marks:[
      Plot.frame({fill:"white", stroke:null}),
      Plot.ruleY(yTicks,{x1:0,x2:24,stroke:gridColor,strokeWidth:12.5*sy,strokeDasharray:`${12.5*sx},${20.6*sx}`}),
      Plot.ruleX(hourTicks,{y1:domainY[0],y2:domainY[1],stroke:gridColor,strokeWidth:12.5*sx,strokeDasharray:`${12.5*sy},${20.6*sy}`,clip:true}),
      ...data,
      Plot.frame({stroke:"black", strokeWidth:5.5*sw}),
      Plot.axisX({ticks:hourTicks, tickSize:24*sy, tickPadding:43*sy, strokeWidth:5.5*sx, fontSize:74*sx,
        tickFormat: last ? hh : ()=>"", label:null, anchor:"bottom", fill:"black"}),
      Plot.axisY({ticks:yTicks, tickSize:24*sx, tickPadding:40*sx, strokeWidth:5.5*sy, fontSize:83*sx,
        label:null, anchor:"left", tickFormat:d=>String(d), fill:"black"}),
      Plot.text([title],{frameAnchor:"top-left", lineAnchor:"bottom", dy:-48*sy, text:d=>d, fontSize:75*sx, textAnchor:"start", fill:"black"}),
      Plot.text([yLabel],{frameAnchor:"left", text:d=>d, rotate:-90, dx:-388*sx, fontSize:83*sx, fill:"black"}),
      ...(last ? [Plot.text([xLabel],{frameAnchor:"bottom", lineAnchor:"middle", dy:203*sy, text:d=>d, fontSize:83*sx, fill:"black"})] : [])
    ]
  });
}
const lineOf = (rows,color) => Plot.line(rows,{x:d=>d[0],y:d=>d[1],stroke:color,strokeWidth:3.5*sw,strokeLinejoin:"round",clip:true});

const pX = panel({height:1570, marginTop:299, marginBottom:113, domainY:xDomainY, yTicks:xTicksY, title:panelTitles[0],
  data:[lineOf(xSeries,"#0000ff"),
    Plot.text([titleLines[0]],{frameAnchor:"top", lineAnchor:"middle", dy:-192*sy, dx:-75*sx, text:d=>d, fontSize:100*sx, fill:"black"}),
    Plot.text([titleLines[1]],{frameAnchor:"top", lineAnchor:"middle", dy:-87*sy, dx:-75*sx, text:d=>d, fontSize:100*sx, fill:"black"})
  ]});
const pY = panel({height:1390, marginTop:119, marginBottom:114, domainY:yDomainY, yTicks:yTicksY, title:panelTitles[1],
  data:[
    Plot.rectY(yBands,{x1:d=>d[0],x2:d=>d[1],y1:yCore[0],y2:yCore[1],fill:"red",inset:0}),
    Plot.ruleX(yEnvelope,{x:"t",y1:"lo",y2:"hi",stroke:"red",strokeWidth:7*sx}),
    Plot.ruleX(ySpikesUp,{x:d=>d[0],y1:yCore[1],y2:d=>d[1],stroke:"red",strokeWidth:4*sx}),
    Plot.ruleX(ySpikesDown,{x:d=>d[0],y1:yCore[0],y2:d=>d[1],stroke:"red",strokeWidth:4*sx}),
    Plot.ruleX(yDrops,{y1:0,y2:yCore[0],stroke:"red",strokeWidth:3.5*sx}),
    Plot.rectY(yDropGroups,{x1:d=>d[0],x2:d=>d[1],y1:0,y2:yCore[0],fill:"red",inset:0}),
    Plot.ruleX(yLone,{x:d=>d[0],y1:d=>d[1],y2:d=>d[2],stroke:"red",strokeWidth:3.5*sx}),
    lineOf(yFloor,"red")
  ]});
const pZ = panel({height:1581, marginTop:118, marginBottom:307, domainY:zDomainY, yTicks:zTicksY, title:panelTitles[2], last:true,
  data:[lineOf(zSeries,"#008000")]});
const fig = document.getElementById("fig");
fig.style.width = W+"px"; fig.style.height = H+"px";
const edge = document.getElementById("edge");
edge.style.borderWidth = `${9*sy}px ${9*sx}px`;
fig.insertBefore(pX, edge); fig.insertBefore(pY, edge); fig.insertBefore(pZ, edge);
</script></body></html>
